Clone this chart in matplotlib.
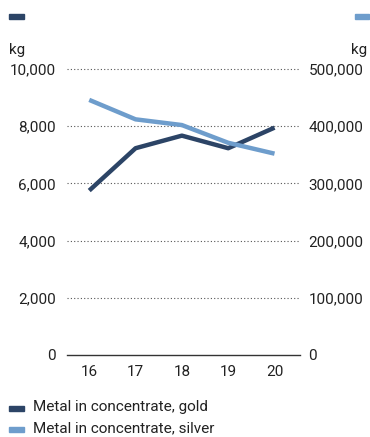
import matplotlib.pyplot as plt
import numpy as np

years = ["16", "17", "18", "19", "20"]
gold_kg = [5750, 7230, 7670, 7230, 7950]
silver_kg = [446000, 412000, 402000, 371000, 352000]
left_ticks = [0, 2000, 4000, 6000, 8000, 10000]
right_ticks = [0, 100000, 200000, 300000, 400000, 500000]

GOLD = "#2c4466"
SILVER = "#6e9dcc"
TEXT = "#222222"

plt.rcParams["font.family"] = ["Roboto", "DejaVu Sans"]

fig = plt.figure(figsize=(3.7, 4.37), dpi=100)
ax = fig.add_axes([67 / 370, 1 - 355 / 437, 233 / 370, 286 / 437])
ax2 = ax.twinx()

x = np.arange(16, 21)
ax.plot(x, gold_kg, color=GOLD, lw=3.2, solid_capstyle="butt", zorder=3)
ax2.plot(x, silver_kg, color=SILVER, lw=3.2, solid_capstyle="butt", zorder=2)

ax.set_xlim(15.52, 20.55)
ax.set_ylim(0, 10000)
ax2.set_ylim(0, 500000)

for t in left_ticks[1:]:
    ax.axhline(t, color="#555555", lw=0.8, ls=(0, (1, 2)), zorder=1, clip_on=False)
ax.axhline(0, color="#333333", lw=1.0, zorder=1, clip_on=False)

ax.set_xticks(x)
ax.set_xticklabels(years)
ax.set_yticks(left_ticks)
ax.set_yticklabels([f"{v:,}" for v in left_ticks])
ax2.set_yticks(right_ticks)
ax2.set_yticklabels([f"{v:,}" for v in right_ticks])

for a in (ax, ax2):
    for s in a.spines.values():
        s.set_visible(False)
    a.tick_params(length=0, labelsize=11, colors=TEXT)
ax.tick_params(axis="y", pad=8)
ax2.tick_params(axis="y", pad=6)
ax.tick_params(axis="x", pad=7)

fig.text(9 / 370, 1 - 50 / 437, "kg", fontsize=11, color=TEXT, va="center", ha="left")
fig.text(367 / 370, 1 - 50 / 437, "kg", fontsize=11, color=TEXT, va="center", ha="right")

# series markers above the axes
fig.patches.append(plt.Rectangle((9 / 370, 1 - 19 / 437), 15 / 370, 5 / 437,
                                 transform=fig.transFigure, color=GOLD))
fig.patches.append(plt.Rectangle((355 / 370, 1 - 19 / 437), 14 / 370, 5 / 437,
                                 transform=fig.transFigure, color=SILVER))

# legend
labels = ["Metal in concentrate, gold", "Metal in concentrate, silver"]
for i, (lab, col) in enumerate(zip(labels, [GOLD, SILVER])):
    yc = 407 + i * 21
    fig.patches.append(plt.Rectangle((9 / 370, 1 - (yc + 4) / 437), 15 / 370, 5 / 437,
                                     transform=fig.transFigure, color=col))
    fig.text(33 / 370, 1 - yc / 437, lab, fontsize=11, color=TEXT, va="center", ha="left")

fig.savefig("out.png", dpi=100)
